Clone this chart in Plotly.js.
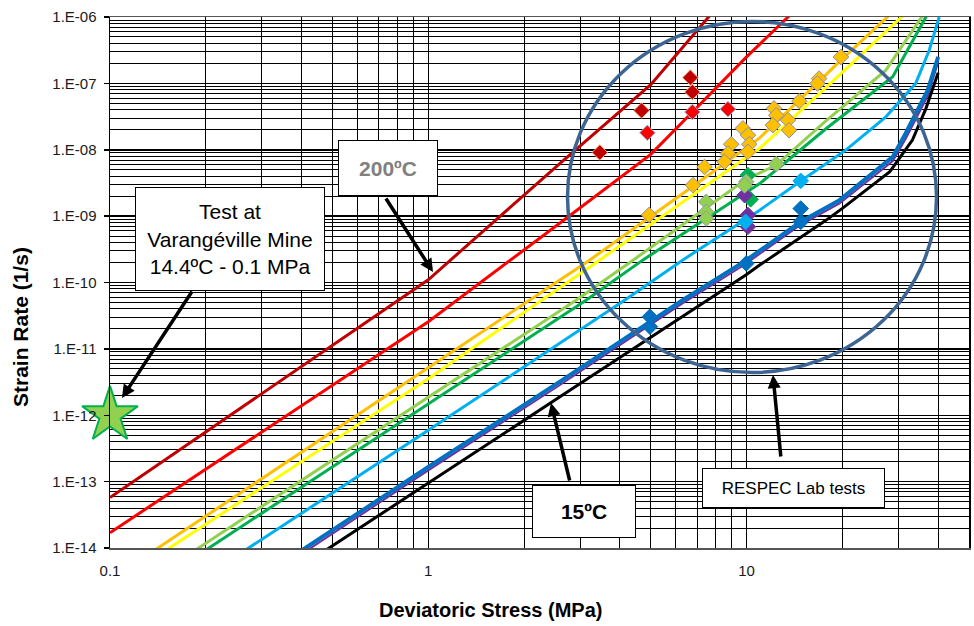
<!DOCTYPE html>
<html><head><meta charset="utf-8">
<script src="https://cdn.plot.ly/plotly-3.0.1.min.js"></script>
<style>html,body{margin:0;padding:0;background:#fff}#chart{width:974px;height:626px}</style>
</head><body><div id="chart"></div>
<script>
// ---- creep curves (stress in MPa, strain rate in 1/s) ----
const stressDarkRed = [0.1, 1, 2.6, 5, 7.6, 8.5];
const rateDarkRed   = [5.75e-14, 1.10e-10, 6.31e-9, 9.55e-8, 1.0e-6, 1.9e-6];
const stressRed = [0.1, 1, 2.6, 5, 6.8, 10, 13.5, 15];
const rateRed   = [1.70e-14, 2.57e-11, 7.94e-10, 8.51e-9, 3.80e-8, 2.51e-7, 1.0e-6, 1.66e-6];
const stressOrange = [0.1, 1, 3.22, 6.79, 11, 16.9, 19.8, 27.7, 31];
const rateOrange   = [3.3e-15, 5.13e-12, 2.19e-10, 2.82e-9, 1.51e-8, 1.07e-7, 2.24e-7, 1.0e-6, 1.78e-6];
const stressYellow = [0.1, 1, 3.46, 11, 17.8, 30.9, 34];
const rateYellow   = [2.6e-15, 3.55e-12, 2.19e-10, 1.05e-8, 8.71e-8, 1.0e-6, 1.58e-6];
const stressLightGreen = [0.1, 1, 2.92, 4.41, 9.95, 12.4, 17.8, 27.4, 35.5, 37];
const rateLightGreen   = [1.33e-15, 1.84e-12, 5.44e-11, 2.19e-10, 3.55e-9, 5.89e-9, 2.75e-8, 1.58e-7, 1.0e-6, 1.58e-6];
const stressGreen = [0.1, 1, 3.14, 4.73, 11, 17.8, 28.8, 36.6, 38];
const rateGreen   = [1.05e-15, 1.47e-12, 5.44e-11, 2.19e-10, 3.09e-9, 2.09e-8, 1.26e-7, 1.0e-6, 1.58e-6];
const stressLightBlue = [0.1, 1, 4.15, 6.31, 11, 14.8, 20.5, 27.4, 34, 37.5, 40.3];
const rateLightBlue   = [4.3e-16, 5.92e-13, 5.44e-11, 2.19e-10, 1.23e-9, 3.39e-9, 9.86e-9, 3.13e-8, 1.0e-7, 3.16e-7, 1.0e-6];
const stressBlue = [0.1, 1, 2.6, 6.31, 9.8, 14.8, 19.6, 28.8, 31.6, 34, 37.1, 40];
const rateBlue   = [1.15e-16, 1.66e-13, 3.24e-12, 5.44e-11, 2.04e-10, 8.22e-10, 1.74e-9, 7.82e-9, 1.76e-8, 3.52e-8, 7.89e-8, 2.51e-7];
const stressPurple = [0.1, 1, 2.6, 6.31, 9.8, 14.8, 19.6, 28.8, 31.6, 34, 37.1, 40];
const ratePurple   = [1.0e-16, 1.48e-13, 2.88e-12, 4.9e-11, 1.82e-10, 7.41e-10, 1.55e-9, 6.76e-9, 1.45e-8, 2.88e-8, 6.46e-8, 2.09e-7];
const stressBlack = [0.1, 1, 2.6, 9.95, 11, 17.8, 20, 28.2, 33.2, 36.6, 40];
const rateBlack   = [6.9e-17, 9.33e-14, 1.91e-12, 1.30e-10, 1.83e-10, 8.71e-10, 1.31e-9, 4.68e-9, 1.40e-8, 4.17e-8, 1.45e-7];

// ---- RESPEC lab tests (diamonds) ----
const labDarkRedX = [3.46, 4.68, 6.66, 6.76];
const labDarkRedY = [9.1e-9, 3.9e-8, 1.22e-7, 7.4e-8];
const labRedX = [4.88, 6.76, 8.74];
const labRedY = [1.8e-8, 3.7e-8, 4.1e-8];
const labOrangeX = [19.8, 16.9, 16.7, 14.66, 12.2, 12.4, 12.1, 13.5, 13.6, 9.74, 10.1, 8.95, 10.2, 8.74, 10.1, 8.53, 7.38, 6.79, 4.94];
const labOrangeY = [2.5e-7, 1.18e-7, 9.96e-8, 5.4e-8, 4.2e-8, 3.3e-8, 2.35e-8, 2.8e-8, 1.97e-8, 2.1e-8, 1.66e-8, 1.21e-8, 1.21e-8, 8.8e-9, 9.3e-9, 6.6e-9, 5.5e-9, 2.93e-9, 1.04e-9];
const labGreenX = [10.3, 10.1];
const labGreenY = [1.79e-9, 4.15e-9];
const labPurpleX = [10.1, 10.1, 9.86];
const labPurpleY = [1.04e-9, 6.9e-10, 2.07e-9];
const labLightGreenX = [12.4, 9.98, 9.86, 7.47, 7.47, 7.47];
const labLightGreenY = [6.1e-9, 3.3e-9, 2.9e-9, 1.64e-9, 1.16e-9, 9.2e-10];
const labLightBlueX = [14.8, 9.93];
const labLightBlueY = [3.4e-9, 8.2e-10];
const labBlueX = [14.8, 14.8, 9.98, 4.97, 4.97];
const labBlueY = [1.3e-9, 8.2e-10, 1.94e-10, 3.05e-11, 2.16e-11];

// ---- in-situ test ----
const mineX = [0.1];
const mineY = [1e-12];

// ---- ticks ----
const xTickVals = [0.1, 1, 10];
const xTickText = ['0.1', '1', '10'];
const yTickVals = [1e-14, 1e-13, 1e-12, 1e-11, 1e-10, 1e-9, 1e-8, 1e-7, 1e-6];
const yTickText = ['1.E-14', '1.E-13', '1.E-12', '1.E-11', '1.E-10', '1.E-09', '1.E-08', '1.E-07', '1.E-06'];

const xMinor = [];
[0.1, 1, 10].forEach(d => { for (let k = 2; k <= 9; k++) { const v = k * d; if (v <= 50) xMinor.push(v); } });
const yMinor = [];
for (let e = -14; e < -6; e++) { for (let k = 2; k <= 9; k++) yMinor.push(k * Math.pow(10, e)); }

const FONT = 'Liberation Sans, Arial, sans-serif';

function line(x, y, color, width) {
  return {x: x, y: y, type: 'scatter', mode: 'lines', line: {color: color, width: width}, hoverinfo: 'skip'};
}
function pts(x, y, color, outline, size) {
  return {x: x, y: y, type: 'scatter', mode: 'markers',
    marker: {symbol: 'diamond', size: size || 12, color: color, line: {color: outline, width: 1}}, hoverinfo: 'skip'};
}

const data = [
  line(stressDarkRed, rateDarkRed, '#C00000', 3),
  line(stressRed, rateRed, '#FF0000', 3),
  line(stressOrange, rateOrange, '#FFC000', 3),
  line(stressYellow, rateYellow, '#FFFF00', 3),
  line(stressLightGreen, rateLightGreen, '#92D050', 3),
  line(stressGreen, rateGreen, '#00B050', 3),
  line(stressLightBlue, rateLightBlue, '#00B0F0', 3),
  line(stressPurple, ratePurple, '#7030A0', 2),
  line(stressBlue, rateBlue, '#0070C0', 4),
  line(stressBlack, rateBlack, '#000000', 3),
  pts(labDarkRedX, labDarkRedY, '#C00000', '#F4B183'),
  pts(labRedX, labRedY, '#FF0000', '#8FC6E8'),
  pts(labOrangeX, labOrangeY, '#FFC000', '#8C8CB4'),
  pts(labGreenX, labGreenY, '#00B050', '#00B050'),
  pts(labPurpleX, labPurpleY, '#7030A0', '#7030A0'),
  pts(labLightGreenX, labLightGreenY, '#92D050', '#9A9AB0'),
  pts(labLightBlueX, labLightBlueY, '#00B0F0', '#00B0F0'),
  pts(labBlueX, labBlueY, '#0070C0', '#0070C0'),
  {x: mineX, y: mineY, type: 'scatter', mode: 'markers', cliponaxis: false,
   marker: {symbol: 'star', size: 42, color: '#92D050', line: {color: '#00B050', width: 2}}, hoverinfo: 'skip'}
];

function arrow(hx, hy, ax, ay) {
  return {xref: 'paper', yref: 'paper', x: hx, y: hy, ax: ax, ay: ay, text: '', showarrow: true,
    arrowhead: 2, arrowsize: 0.75, arrowwidth: 3.5, arrowcolor: '#000', standoff: 0};
}
function box(cx, cy, w, h, text, size, color, bold) {
  return {xref: 'paper', yref: 'paper', x: cx, y: cy, xanchor: 'center', yanchor: 'middle',
    width: w, height: h, text: bold ? '<b>' + text + '</b>' : text, showarrow: false,
    font: {family: FONT, size: size, color: color}, bgcolor: '#fff', bordercolor: '#000', borderwidth: 1, borderpad: 0};
}

const layout = {
  width: 974, height: 626,
  margin: {l: 110, r: 5, t: 17, b: 78},
  paper_bgcolor: '#fff', plot_bgcolor: '#fff',
  showlegend: false,
  font: {family: FONT, size: 15, color: '#1a1a1a'},
  xaxis: {
    type: 'log', range: [-1, Math.log10(50)],
    tickmode: 'array', tickvals: xTickVals, ticktext: xTickText,
    ticks: '', ticklabelstandoff: 8,
    showgrid: true, gridcolor: '#000', gridwidth: 1.2,
    minor: {tickmode: 'array', tickvals: xMinor, showgrid: true, gridcolor: '#000', gridwidth: 1, ticks: ''},
    showline: true, linecolor: '#555', linewidth: 1.5, mirror: true, zeroline: false
  },
  yaxis: {
    type: 'log', range: [-14, -6],
    tickmode: 'array', tickvals: yTickVals, ticktext: yTickText,
    ticks: 'outside', ticklen: 5, tickcolor: '#000', tickwidth: 1.5, ticklabelstandoff: 4,
    showgrid: true, gridcolor: '#000', gridwidth: 1.5,
    minor: {tickmode: 'array', tickvals: yMinor, showgrid: true, gridcolor: '#000', gridwidth: 1, ticks: ''},
    showline: true, linecolor: '#000', linewidth: 1.5, mirror: true, zeroline: false
  },
  shapes: [{type: 'circle', xref: 'paper', yref: 'paper', x0: 0.5326, x1: 0.9622, y0: 0.3305, y1: 0.9915,
    line: {color: '#3D6593', width: 3.5}, layer: 'above'}],
  annotations: [
    {xref: 'paper', yref: 'paper', x: 0.4435, y: -0.1168, xanchor: 'center', yanchor: 'middle', showarrow: false,
     text: '<b>Deviatoric Stress (MPa)</b>', font: {family: FONT, size: 20, color: '#000'}},
    {xref: 'paper', yref: 'paper', x: -0.1036, y: 0.4162, xanchor: 'center', yanchor: 'middle', showarrow: false,
     textangle: -90, text: '<b>Strain Rate (1/s)</b>', font: {family: FONT, size: 21, color: '#000'}},
    arrow(0.01397, 0.2825, 71, -108),
    arrow(0.3760, 0.5198, -48, -75),
    arrow(0.5134, 0.2731, 19, 79),
    arrow(0.7718, 0.3258, 8, 83),
    box(0.1396, 0.5821, 188, 102, 'Test at<br>Varangéville Mine<br>14.4ºC - 0.1 MPa', 21, '#000', false),
    box(0.3233, 0.7158, 98, 54, '200ºC', 21, '#808080', true),
    box(0.5517, 0.0693, 102, 51, '15ºC', 21, '#000', true),
    box(0.7959, 0.1124, 181, 38, 'RESPEC Lab tests', 17, '#000', false)
  ]
};

Plotly.newPlot('chart', data, layout, {staticPlot: true, displayModeBar: false});
</script>
</body></html>
